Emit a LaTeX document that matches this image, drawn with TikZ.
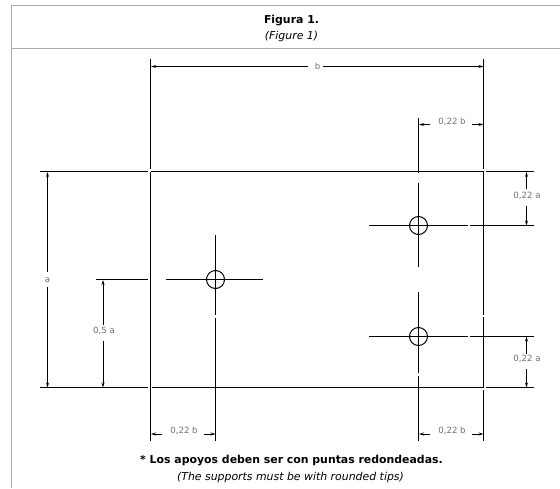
\documentclass[tikz,border=0pt]{standalone}
\usepackage{fontspec}
\setmainfont{DejaVu Sans}
\usetikzlibrary{arrows.meta}
\definecolor{framegray}{HTML}{A9A9A9}
\definecolor{dimgray}{HTML}{707070}
\tikzset{
	frameline/.style={draw=framegray, line width=1pt},
	part/.style={draw=black, line width=1pt},
	dimline/.style={draw=black, line width=0.9pt, -{Stealth[length=5pt,width=3pt]}},
	dimtext/.style={text=dimgray, font=\fontsize{8.6}{10}\selectfont, inner sep=0pt},
	hole/.style={circle, draw=black, line width=1pt, minimum size=18pt, inner sep=0pt},
	boldtext/.style={font=\fontsize{10.9}{12}\selectfont\bfseries, inner sep=0pt},
	italtext/.style={font=\fontsize{10.9}{12}\selectfont\itshape, inner sep=0pt}
}
\begin{document}
\begin{tikzpicture}[x=1pt,y=-1pt]
	\useasboundingbox (0,0) rectangle (560,489);
	% table frame
	\coordinate (tl) at (11.5,5.5);
	\coordinate (tr) at (560,5.5);
	\coordinate (hl) at (11.5,48.5);
	\coordinate (hr) at (560,48.5);
	\coordinate (bl) at (11.5,488);
	\draw[frameline] (tr) -- (tl) -- (bl);
	\draw[frameline] (hl) -- (hr);
	\node[boldtext] (title) at (291.5,20.5) {Figura 1.};
	\node[italtext] (subtitle) at (291.5,36) {(Figure 1)};
	% holes
	\node[hole] (h1) at (215.5,279.5) {};
	\node[hole] (h2) at (418.5,225.5) {};
	\node[hole] (h3) at (418.5,336.5) {};
	% edges of the plate, with their small gaps
	\draw[part] (150.5,59) -- (150.5,169) (150.5,172) -- (150.5,441);
	\draw[part] (483.5,59) -- (483.5,169) (483.5,172) -- (483.5,315) (483.5,317) -- (483.5,387) (483.5,390) -- (483.5,441);
	\draw[part] (40,171.5) -- (148,171.5) (151,171.5) -- (484,171.5) (486,171.5) -- (534,171.5);
	\draw[part] (40,387.5) -- (148,387.5) (152,387.5) -- (484,387.5) (486,387.5) -- (534,387.5);
	% centre lines
	\draw[part] (215.5,235) -- (215.5,315) (215.5,318) -- (215.5,441);
	\draw[part] (96,279.5) -- (148,279.5) (166,279.5) -- (263,279.5);
	\draw[part] (418.5,118) -- (418.5,173) (418.5,183) -- (418.5,267.5) (418.5,292) -- (418.5,372.5) (418.5,376) -- (418.5,441);
	\foreach \y in {225.5,336.5}
		\draw[part] (369,\y) -- (467.5,\y) (469.5,\y) -- (534,\y);
	% dimension labels
	\node[dimtext] (db) at (317.5,66) {b};
	\node[dimtext] (da) at (47.5,280) {a};
	\node[dimtext] (d05a) at (104,331) {0,5 a};
	\node[dimtext] (dbt) at (452,122) {0,22 b};
	\node[dimtext] (dbl) at (184,431) {0,22 b};
	\node[dimtext] (dbr) at (452,431) {0,22 b};
	\node[dimtext] (dat) at (527,196) {0,22 a};
	\node[dimtext] (dab) at (527,359) {0,22 a};
	% dimension lines
	\draw[dimline] (308,66.5) -- (151,66.5);
	\draw[dimline] (323,66.5) -- (483.5,66.5);
	\draw[dimline] (47.5,272) -- (47.5,172);
	\draw[dimline] (47.5,287) -- (47.5,387.5);
	\draw[dimline] (103,325) -- (103,280);
	\draw[dimline] (103,341) -- (103,387.5);
	\draw[dimline] (430,124.5) -- (419,124.5);
	\draw[dimline] (472,124.5) -- (483.5,124.5);
	\draw[dimline] (162,434) -- (151,434);
	\draw[dimline] (204,434) -- (215.5,434);
	\draw[dimline] (430,434) -- (419,434);
	\draw[dimline] (472,434) -- (483.5,434);
	\draw[dimline] (526.5,189) -- (526.5,172);
	\draw[dimline] (526.5,206) -- (526.5,225.5);
	\draw[dimline] (526.5,354) -- (526.5,336.5);
	\draw[dimline] (526.5,369) -- (526.5,387.5);
	% notes
	\node[boldtext] (note) at (291.5,461) {* Los apoyos deben ser con puntas redondeadas.};
	\node[italtext] (subnote) at (290.5,477.5) {(The supports must be with rounded tips)};
\end{tikzpicture}
\end{document}
